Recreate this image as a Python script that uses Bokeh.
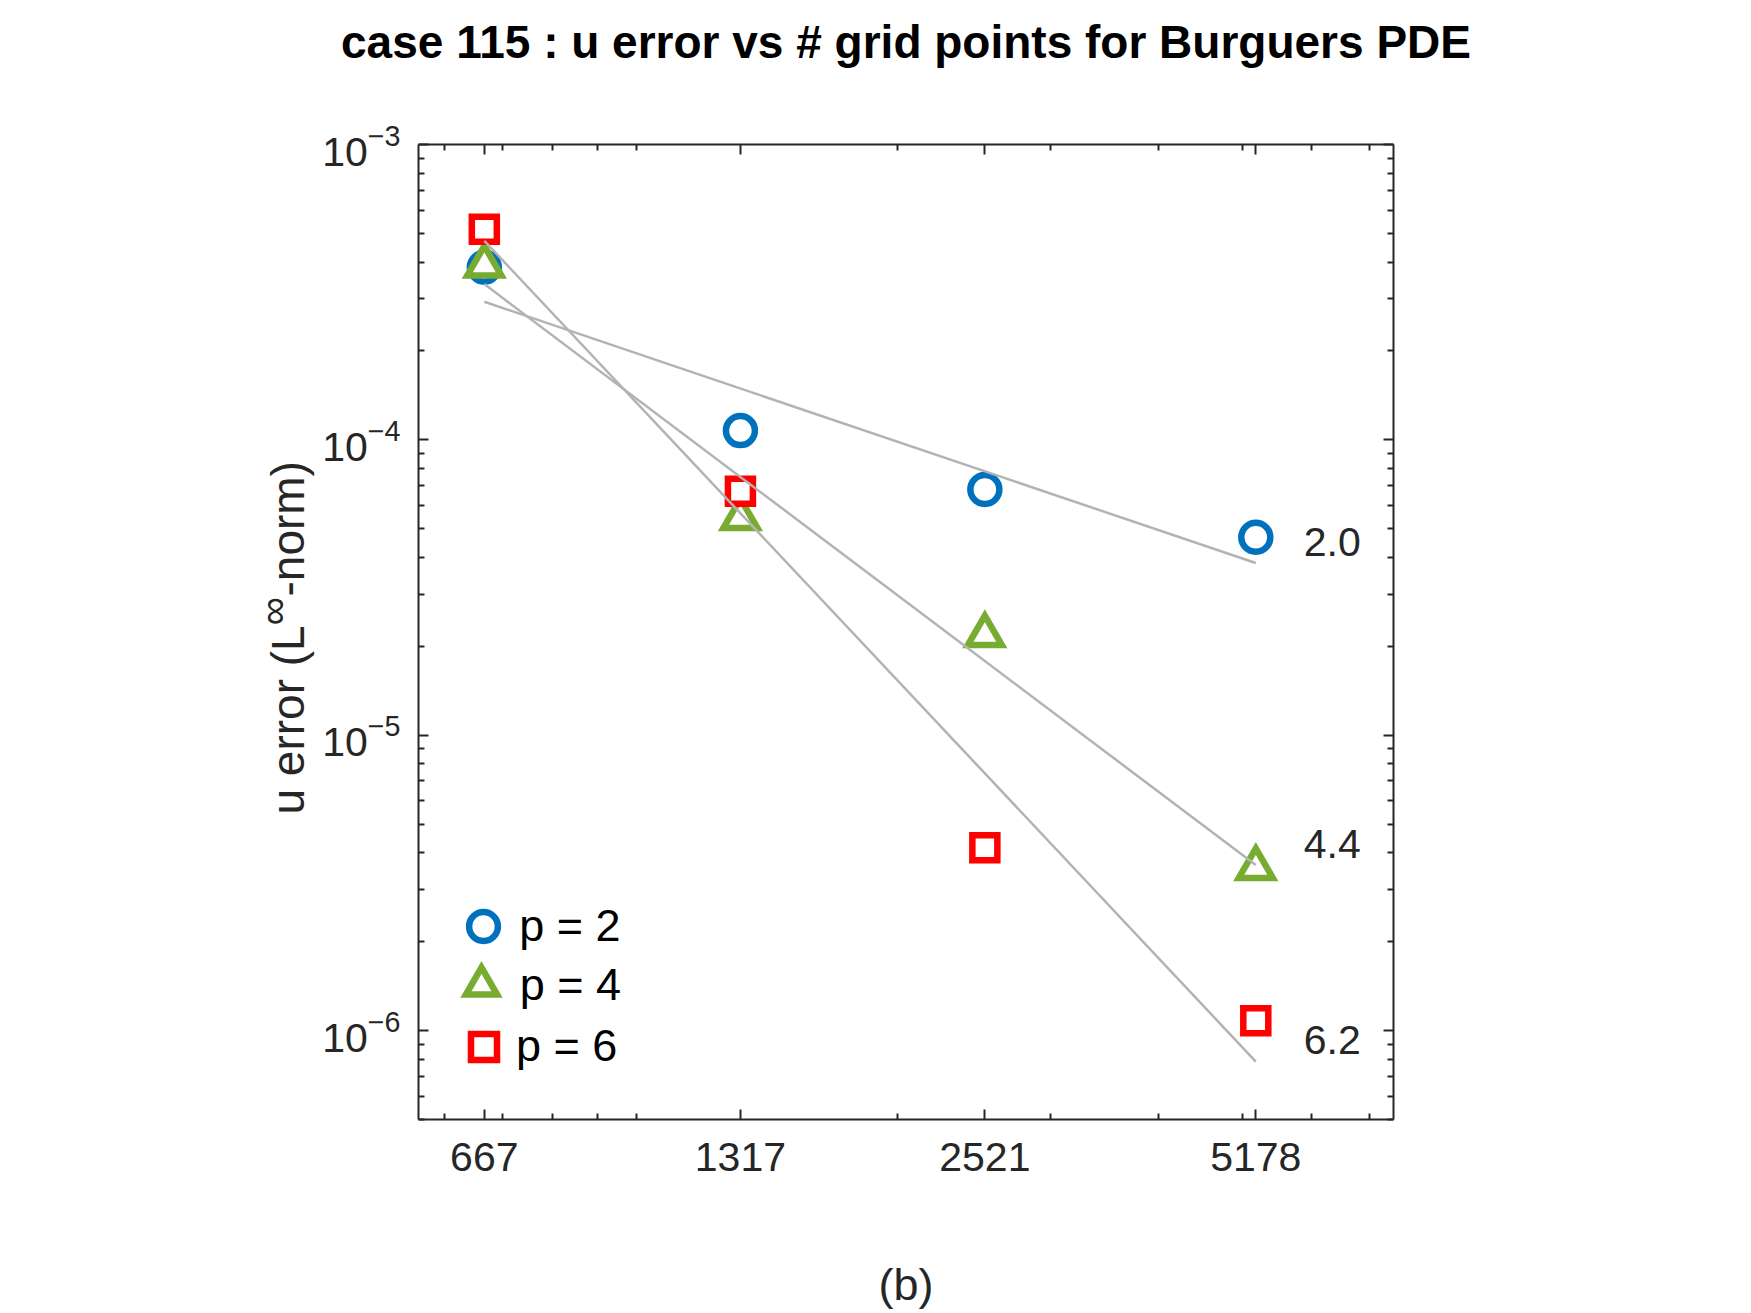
import numpy as np
from bokeh.plotting import figure
from bokeh.models import (FixedTicker, LogAxis, Label, Legend, LegendItem,
                          PrintfTickFormatter, Range1d)
from bokeh.core.properties import value
from bokeh.embed import file_html
from bokeh.resources import INLINE

# grid sizes and the u error (L-infinity norm) for each polynomial order
grid_points = [667, 1317, 2521, 5178]
err_p2 = [3.84e-4, 1.075e-4, 6.79e-5, 4.68e-5]
err_p4 = [3.89e-4, 5.43e-5, 2.18e-5, 3.55e-6]
err_p6 = [5.16e-4, 6.70e-5, 4.16e-6, 1.08e-6]
series_names = ["p = 2", "p = 4", "p = 6"]

x_minor_ticks = [600, 700, 800, 900, 1000, 2000, 3000, 4000, 5000, 6000, 7000]
y_major_ticks = [1e-6, 1e-5, 1e-4, 1e-3]
y_minor_ticks = [m * 10.0 ** e for e in range(-7, -3) for m in range(2, 10)]

TITLE = "case 115 : u error vs # grid points for Burguers PDE"
FONT = "Liberation Sans"
INK = "#262626"
FIT_GREY = "#b3b3b3"
COLORS = ["#0072BD", "#77AC30", "#FF0000"]
MARKERS = ["circle", "triangle", "square"]
SIZES = [29, 34, 25]

# frame geometry (pixels) and axis limits
FL, FT, FW, FH = 418, 144, 975, 975
X0, X1 = 560, 7465
Y0, Y1 = 5e-7, 1e-3


def x_at(px):
    return 10 ** (np.log10(X0) + (px - FL) / FW * np.log10(X1 / X0))


def y_at(py):
    return 10 ** (np.log10(Y1) - (py - FT) / FH * np.log10(Y1 / Y0))


p = figure(frame_width=FW, frame_height=FH,
           x_axis_type="log", y_axis_type="log",
           x_range=Range1d(X0, X1), y_range=Range1d(Y0, Y1),
           output_backend="svg", toolbar_location=None,
           min_border_left=FL, min_border_right=1751 - FL - FW,
           min_border_top=FT, min_border_bottom=1313 - FT - FH)
p.background_fill_color = "white"
p.border_fill_color = "white"
p.outline_line_color = None
p.xgrid.visible = False
p.ygrid.visible = False


def style_axis(ax, show_labels=True):
    ax.axis_line_color = INK
    ax.axis_line_width = 2
    ax.major_tick_line_color = INK
    ax.minor_tick_line_color = INK
    ax.major_tick_line_width = 2
    ax.minor_tick_line_width = 2
    ax.major_tick_in = 10
    ax.major_tick_out = 0
    ax.minor_tick_in = 6
    ax.minor_tick_out = 0
    ax.major_label_text_font = FONT
    ax.major_label_text_color = INK
    ax.major_label_text_font_size = "41px" if show_labels else "0px"
    if not show_labels:
        ax.major_label_text_alpha = 0


x_ticker = FixedTicker(ticks=grid_points, minor_ticks=x_minor_ticks)
y_ticker = FixedTicker(ticks=y_major_ticks, minor_ticks=y_minor_ticks)

xa = p.xaxis[0]
xa.ticker = x_ticker
xa.formatter = PrintfTickFormatter(format="%d")
style_axis(xa)
xa.major_label_standoff = 23
xa.axis_label = "(b)"
xa.axis_label_text_font = FONT
xa.axis_label_text_font_size = "45px"
xa.axis_label_text_font_style = "normal"
xa.axis_label_text_color = INK
xa.axis_label_standoff = 85

ya = p.yaxis[0]
ya.ticker = y_ticker
style_axis(ya)
ya.major_label_standoff = 18

# mirrored tick marks along the top and right edges of the box
top_axis = LogAxis(ticker=FixedTicker(ticks=grid_points, minor_ticks=x_minor_ticks))
style_axis(top_axis, show_labels=False)
p.add_layout(top_axis, "above")

right_axis = LogAxis(ticker=FixedTicker(ticks=y_major_ticks, minor_ticks=y_minor_ticks))
style_axis(right_axis, show_labels=False)
p.add_layout(right_axis, "right")

# title, centred over the box
p.add_layout(Label(x=x_at(FL + FW / 2), y=y_at(41), text=TITLE,
                   text_font=FONT, text_font_size="46px", text_font_style="bold",
                   text_color="black", text_align="center", text_baseline="middle"),
             "above")

# measured errors
renderers = []
for err, color, marker, size in zip([err_p2, err_p4, err_p6], COLORS, MARKERS, SIZES):
    r = p.scatter(grid_points, err, marker=marker, size=size,
                  line_color=color, line_width=6.5, line_join="miter",
                  fill_color="white")
    renderers.append(r)

# least-squares convergence lines in log-log space, with the order of accuracy
# (error ~ h^q, h ~ N^(-1/2)) written next to each line
log_n = np.log10(grid_points)
label_x, label_y, label_txt = [], [], []
for err in [err_p2, err_p4, err_p6]:
    slope, intercept = np.polyfit(log_n, np.log10(err), 1)
    ends = np.array([log_n[0], log_n[-1]])
    fit_y = 10 ** (intercept + slope * ends)
    p.line([grid_points[0], grid_points[-1]], fit_y, line_color=FIT_GREY, line_width=2.5)
    label_x.append(grid_points[-1] * 1.136)
    label_y.append(fit_y[-1] * 1.18)
    label_txt.append(f"{-2 * slope:.1f}")

p.text(x=label_x, y=label_y, text=label_txt, text_font=value(FONT),
       text_font_size="41px", text_color=INK,
       text_align="left", text_baseline="middle")

# one legend per entry so every marker keeps its own size
legend_rows = [193, 134, 73]     # row centres above the frame bottom, px
legend_sizes = [29, 31, 26]
legend_cx = [65.5, 62.5, 65.5]
for name, r, row, msize, cx in zip(series_names, renderers, legend_rows, legend_sizes, legend_cx):
    box = msize / 0.4
    p.add_layout(Legend(items=[LegendItem(label=name, renderers=[r])],
                        location=(cx - box / 2, row - box / 2),
                        glyph_width=int(round(box)), glyph_height=int(round(box)),
                        label_standoff=0, padding=0, margin=0, spacing=0,
                        border_line_alpha=0, background_fill_alpha=0,
                        label_text_font=FONT, label_text_font_size="45px",
                        label_text_color="black"))

# y-axis title with a superscript infinity, set as three rotated pieces
ylab_pieces = [  # text, centre x (px), start y (px), font size
    ("u error (L", 287, 814, "46px"),
    ("\u221e", 272, 625, "40px"),
    ("-norm)", 287, 596, "46px"),
]
for txt, px, py, fs in ylab_pieces:
    p.add_layout(Label(x=x_at(px), y=y_at(py), text=txt, angle=np.pi / 2,
                       text_font=FONT, text_font_size=fs, text_color=INK,
                       text_align="left", text_baseline="middle"), "left")

open("out.html", "w").write(file_html(p, INLINE))
